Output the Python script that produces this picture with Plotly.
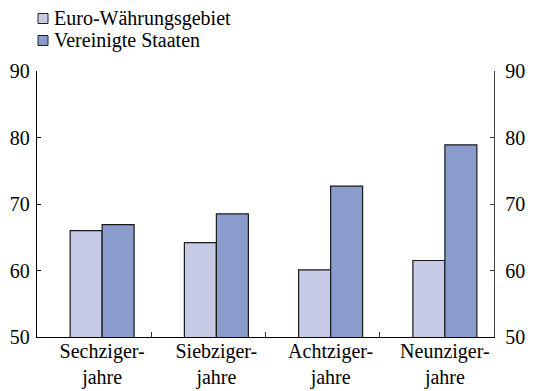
import plotly.graph_objects as go

# Data
categories = ["Sechziger-<br>jahre", "Siebziger-<br>jahre", "Achtziger-<br>jahre", "Neunziger-<br>jahre"]
series_names = ["Euro-Währungsgebiet", "Vereinigte Staaten"]
euro_values = [66.0, 64.2, 60.1, 61.5]
us_values = [66.9, 68.5, 72.7, 78.9]
y_ticks = [50, 60, 70, 80, 90]

colors = ["#c6cae5", "#8a9ccb"]
FONT = "Liberation Serif, Times New Roman, serif"
W, H = 533, 391
M = dict(l=37, r=39, t=71, b=54)

BAR_W = 0.28
PAIR_CENTER = 0.57
centers = [i + PAIR_CENTER for i in range(len(categories))]

fig = go.Figure()
for name, vals, col, off in zip(series_names, [euro_values, us_values], colors, [-BAR_W, 0.0]):
    fig.add_trace(go.Bar(
        x=centers, y=vals, name=name, width=BAR_W, offset=off,
        marker=dict(color=col, line=dict(color="#1a1a1a", width=1.2)),
        showlegend=False, hoverinfo="skip",
    ))

# right-hand axis carries the same scale
fig.add_trace(go.Scatter(x=[None], y=[None], yaxis="y2", showlegend=False, hoverinfo="skip"))


def tfont(size=20):
    return dict(family=FONT, size=size, color="black")


fig.update_layout(
    width=W, height=H, autosize=False,
    margin=dict(l=M["l"], r=M["r"], t=M["t"], b=M["b"], pad=0),
    paper_bgcolor="white", plot_bgcolor="white",
    barmode="overlay",
    font=tfont(),
    xaxis=dict(
        range=[0, len(categories)], tickmode="array", tickvals=centers, ticktext=categories,
        ticks="", showgrid=False, zeroline=False, automargin=False,
        showline=True, linecolor="black", linewidth=1.3,
        tickfont=tfont(), ticklabelstandoff=-4,
        minor=dict(tickmode="array", tickvals=[1, 2, 3], ticks="inside", ticklen=5,
                   tickcolor="#333", tickwidth=1, showgrid=False),
    ),
    yaxis=dict(
        range=[50, 90], tickmode="array", tickvals=y_ticks,
        ticks="inside", ticklen=4, tickcolor="black", tickwidth=1,
        showgrid=False, zeroline=False, automargin=False,
        showline=True, linecolor="black", linewidth=1.3,
        tickfont=tfont(), ticklabelstandoff=2,
    ),
    yaxis2=dict(
        range=[50, 90], tickmode="array", tickvals=y_ticks, overlaying="y", side="right",
        ticks="inside", ticklen=4, tickcolor="#444", tickwidth=1,
        showgrid=False, zeroline=False, automargin=False,
        showline=True, linecolor="#444", linewidth=1.3,
        tickfont=tfont(), ticklabelstandoff=6,
    ),
)

# Legend: swatches + labels in the top-left corner
pw = W - M["l"] - M["r"]
ph = H - M["t"] - M["b"]


def px_x(x):
    return (x - M["l"]) / pw


def px_y(y):
    return (H - M["b"] - y) / ph


for i, (name, col) in enumerate(zip(series_names, colors)):
    cy = 18.5 + 22 * i
    fig.add_shape(type="rect", xref="paper", yref="paper",
                  x0=px_x(38), x1=px_x(48), y0=px_y(cy - 5), y1=px_y(cy + 5),
                  fillcolor=col, line=dict(color="#222", width=1))
    fig.add_annotation(xref="paper", yref="paper", x=px_x(52), y=px_y(cy),
                       xanchor="left", yanchor="middle", text=name, showarrow=False,
                       font=tfont())

fig.write_html("out.html")
